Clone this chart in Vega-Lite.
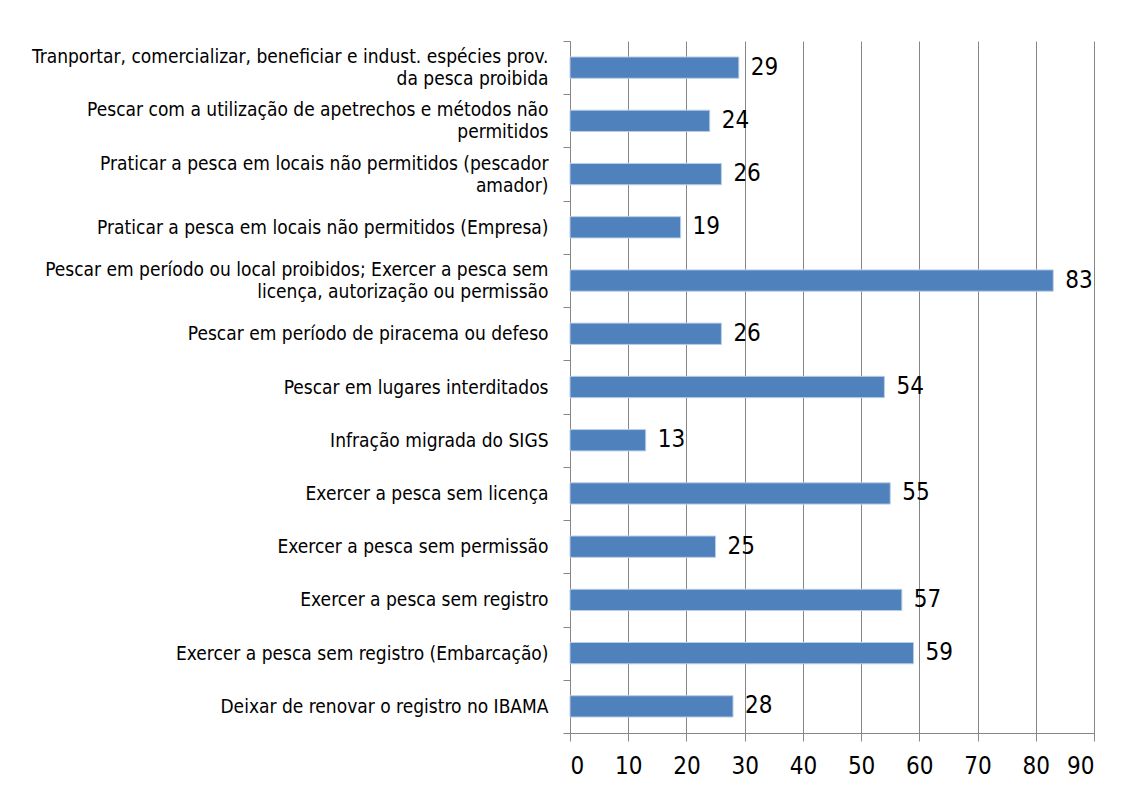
{
  "$schema": "https://vega.github.io/schema/vega-lite/v6.json",
  "width": 524,
  "height": 692,
  "autosize": {"type": "none"},
  "padding": {"left": 570, "top": 41, "right": 40, "bottom": 61},
  "background": "white",
  "config": {
    "view": {"stroke": null},
    "font": "DejaVu Sans Condensed, sans-serif"
  },
  "data": {
    "values": [
      {"infracao": "Tranportar, comercializar, beneficiar e indust. espécies prov.\nda pesca proibida", "autos": 29},
      {"infracao": "Pescar com a utilização de apetrechos e métodos não\npermitidos", "autos": 24},
      {"infracao": "Praticar a pesca em locais não permitidos (pescador\namador)", "autos": 26},
      {"infracao": "Praticar a pesca em locais não permitidos (Empresa)", "autos": 19},
      {"infracao": "Pescar em período ou local proibidos; Exercer a pesca sem\nlicença, autorização ou permissão", "autos": 83},
      {"infracao": "Pescar em período de piracema ou defeso", "autos": 26},
      {"infracao": "Pescar em lugares interditados", "autos": 54},
      {"infracao": "Infração migrada do SIGS", "autos": 13},
      {"infracao": "Exercer a pesca sem licença", "autos": 55},
      {"infracao": "Exercer a pesca sem permissão", "autos": 25},
      {"infracao": "Exercer a pesca sem registro", "autos": 57},
      {"infracao": "Exercer a pesca sem registro (Embarcação)", "autos": 59},
      {"infracao": "Deixar de renovar o registro no IBAMA", "autos": 28}
    ]
  },
  "encoding": {
    "y": {
      "field": "infracao",
      "type": "nominal",
      "sort": null,
      "scale": {"paddingInner": 0, "paddingOuter": 0},
      "axis": {
        "title": null,
        "tickBand": "extent",
        "domainColor": "#868686",
        "tickColor": "#868686",
        "tickSize": 7,
        "labelPadding": 15,
        "labelFontSize": 19,
        "labelColor": "#000000",
        "labelLineHeight": 22,
        "labelLimit": 600,
        "labelOffset": {"condition": {"test": "isString(datum.value) && indexof(datum.value, '\\n') >= 0", "value": -11}, "value": 0},
        "labelExpr": "isString(datum.value) ? split(datum.value, '\\n') : ''"
      }
    },
    "x": {
      "field": "autos",
      "type": "quantitative",
      "scale": {"domain": [0, 90]},
      "axis": {
        "title": null,
        "values": [0, 10, 20, 30, 40, 50, 60, 70, 80, 90],
        "grid": true,
        "gridColor": "#868686",
        "domainColor": "#868686",
        "tickColor": "#868686",
        "tickSize": 8,
        "labelPadding": 13,
        "labelFontSize": 24,
        "labelColor": "#000000"
      }
    }
  },
  "layer": [
    {
      "mark": {"type": "bar", "height": {"band": 0.4}, "color": "#4F81BD", "stroke": "#B9CDE5", "strokeWidth": 1}
    },
    {
      "mark": {"type": "text", "align": "left", "baseline": "middle", "dx": 12, "fontSize": 24, "color": "#000000"},
      "encoding": {"text": {"field": "autos", "type": "quantitative"}}
    }
  ]
}
